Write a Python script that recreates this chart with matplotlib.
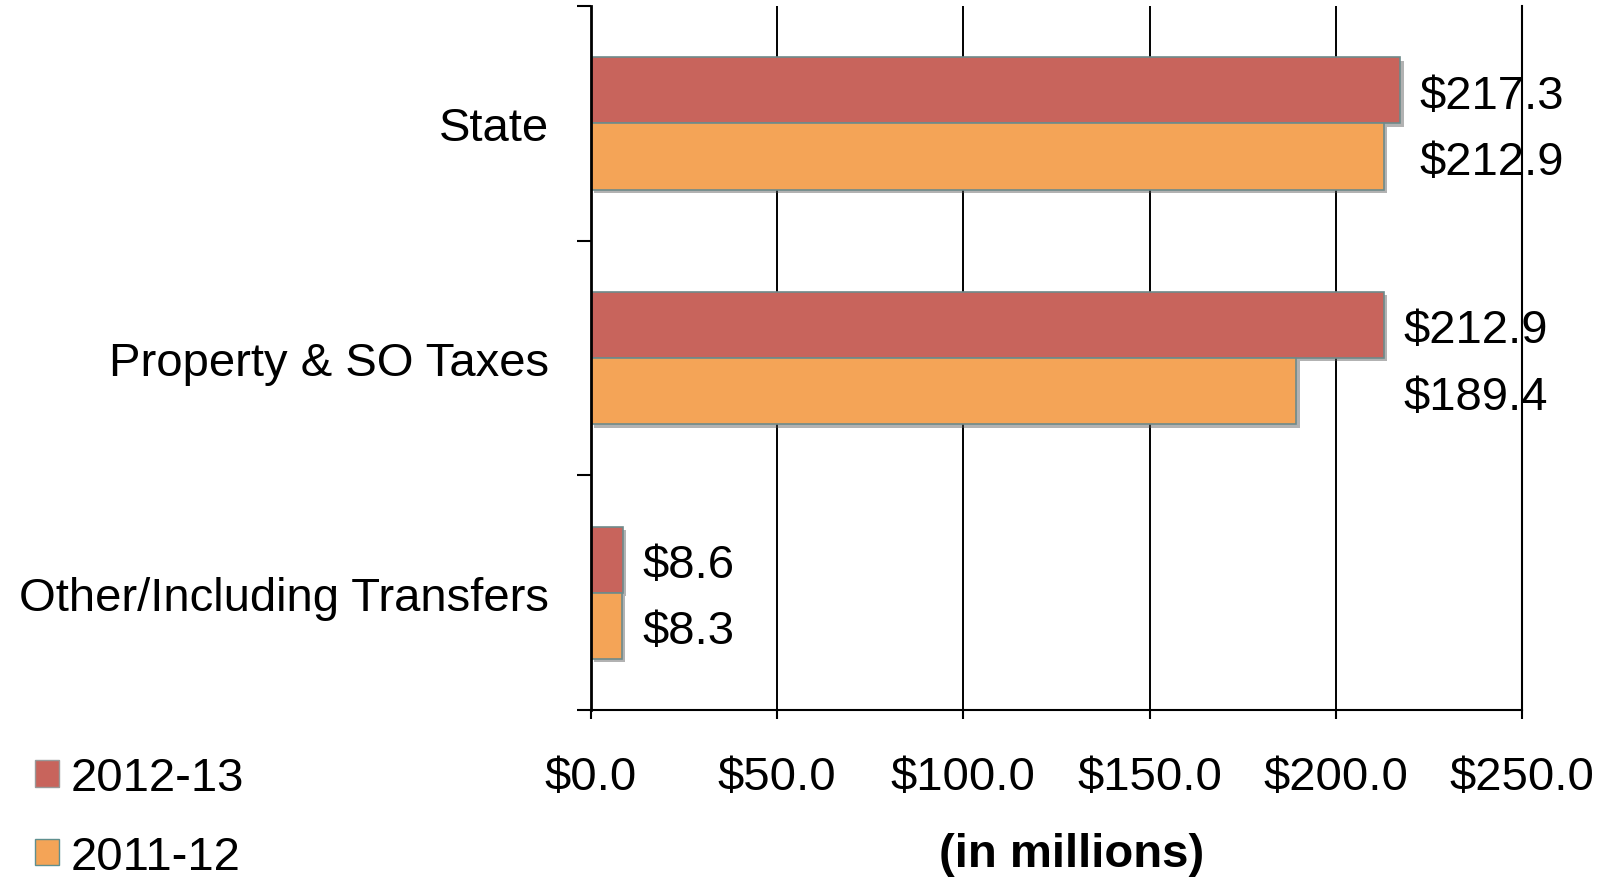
import matplotlib
matplotlib.use("Agg")
import matplotlib.pyplot as plt
import matplotlib.patheffects as pe
from matplotlib.patches import Patch
from matplotlib.ticker import FixedLocator

categories = ["State", "Property & SO Taxes", "Other/Including Transfers"]
series_names = ["2012-13", "2011-12"]
values_2012_13 = [217.3, 212.9, 8.6]
values_2011_12 = [212.9, 189.4, 8.3]
x_ticks = [0, 50, 100, 150, 200, 250]
x_tick_labels = ["$0.0", "$50.0", "$100.0", "$150.0", "$200.0", "$250.0"]
x_label = "(in millions)"

plt.rcParams['font.family'] = ['Liberation Sans', 'DejaVu Sans']

RED = "#C8645C"
ORANGE = "#F4A457"
EDGE = "#6E8A8A"
FS = 34

fig = plt.figure(figsize=(16.12, 8.79), dpi=100)
ax = fig.add_axes([0.3666, 0.1911, 0.5776, 0.8009])

h = 0.282
ys = list(range(len(categories)))
shadow = [pe.SimplePatchShadow(offset=(2.5, -2.5), shadow_rgbFace="#555555", alpha=0.45), pe.Normal()]
b1 = ax.barh([y - h / 2 for y in ys], values_2012_13, height=h, color=RED,
             edgecolor=EDGE, linewidth=1.2, zorder=3)
b2 = ax.barh([y + h / 2 for y in ys], values_2011_12, height=h, color=ORANGE,
             edgecolor=EDGE, linewidth=1.2, zorder=3)
for bar in list(b1) + list(b2):
    bar.set_path_effects(shadow)

for i, y in enumerate(ys):
    xm = max(values_2012_13[i], values_2011_12[i])
    for yy, v in ((y - h / 2, values_2012_13[i]), (y + h / 2, values_2011_12[i])):
        ax.annotate(f"${v:.1f}", xy=(xm, yy), xytext=(14, -4), textcoords="offset points",
                    ha="left", va="center", fontsize=FS, color="black", zorder=5,
                    annotation_clip=False)

ax.set_xlim(0, 250)
ax.set_ylim(2.5, -0.5)
ax.set_xticks(x_ticks)
ax.set_xticklabels(x_tick_labels, fontsize=FS)
ax.set_yticks(ys)
ax.set_yticklabels(categories, fontsize=FS)
ax.yaxis.set_minor_locator(FixedLocator([-0.5, 0.5, 1.5, 2.5]))
ax.tick_params(axis="y", which="major", length=0, pad=30)
ax.tick_params(axis="y", which="minor", length=10, width=1.5, color="black")
ax.tick_params(axis="x", which="major", length=6.5, width=1.5, pad=26, color="black")

ax.grid(axis="x", color="black", linewidth=1.4, zorder=0)
ax.set_axisbelow(True)
ax.spines["top"].set_visible(False)
for s in ("left", "bottom", "right"):
    ax.spines[s].set_color("black")
    ax.spines[s].set_linewidth(1.5)
ax.spines["left"].set_linewidth(2)
ax.spines["left"].set_zorder(4)

fig.text(0.665, 0.027, x_label, fontsize=FS, fontweight="bold", ha="center", va="center")

handles = [Patch(facecolor=RED, edgecolor="#999999", linewidth=1),
           Patch(facecolor=ORANGE, edgecolor="#5F8F8F", linewidth=1)]
fig.legend(handles, series_names, loc="upper left", bbox_to_anchor=(0.022, 0.139),
           frameon=False, fontsize=FS, handlelength=0.5, handleheight=0.5,
           handletextpad=0.25, labelspacing=0.74, borderaxespad=0, borderpad=0)

fig.savefig("out.png", dpi=100)
